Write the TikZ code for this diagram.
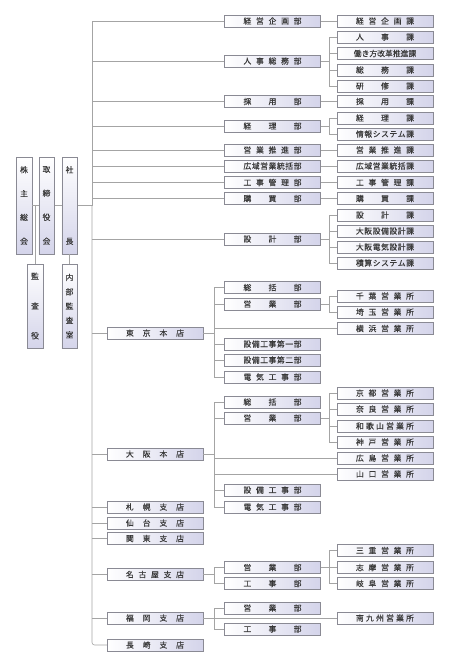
\documentclass[tikz,border=0pt]{standalone}
\usepackage{fontspec}
\setmainfont{Noto Sans CJK JP}
\newfontfamily\jpfont{Noto Sans CJK JP}[FakeBold=0.3]
\usetikzlibrary{shadows}
\definecolor{boxline}{HTML}{8A8A94}
\definecolor{boxfill}{HTML}{D4D4EA}
\definecolor{linec}{HTML}{A4A4A4}
\definecolor{txt}{HTML}{383838}
\newlength\jstw
\makeatletter
\def\jst@first#1{#1\jst@rest}
\def\jst@rest#1{\ifx#1\relax\else\hfill#1\expandafter\jst@rest\fi}
\newcommand\jst[1]{\settowidth\jstw{#1}\ifdim\jstw<58pt\makebox[58pt]{\jst@first#1\relax}\else#1\fi}
\def\vj@first#1{\hbox{#1}\vj@rest}
\def\vj@rest#1{\ifx#1\relax\else\vfill\hbox{#1}\expandafter\vj@rest\fi}
\newcommand\vjst[2]{\vbox to #1{\vj@first#2\relax}}
\makeatother
\tikzset{
  hbx/.style={draw=boxline, line width=0.5pt, left color=white, right color=boxfill,
    minimum width=96pt, minimum height=12pt, inner sep=0pt, text=txt,
    font=\jpfont\fontsize{7.8}{8}\selectfont,
    drop shadow={shadow xshift=0.8pt, shadow yshift=-0.8pt, opacity=0.3, fill=gray}},
  vbx/.style={draw=boxline, line width=0.5pt, top color=white, bottom color=boxfill,
    minimum width=15.5pt, inner sep=0pt, text=txt,
    font=\jpfont\fontsize{7.8}{8}\selectfont,
    drop shadow={shadow xshift=0.8pt, shadow yshift=-0.8pt, opacity=0.3, fill=gray}},
  conn/.style={draw=linec, line width=0.6pt}
}
\begin{document}
\begin{tikzpicture}[x=1pt,y=-1pt]
\useasboundingbox (0,0) rectangle (450,667);
\coordinate (trunk) at (92,0);
\coordinate (bA) at (214,0);
\coordinate (bB) at (329,0);
% left vertical boxes
\node[vbx, minimum height=97pt] (kabu) at (24,205.5) {\vjst{78pt}{株主総会}};
\node[vbx, minimum height=97pt] (tori) at (46.5,205.5) {\vjst{78pt}{取締役会}};
\node[vbx, minimum height=97pt] (sha) at (69.5,205.5) {\vjst{78pt}{社長}};
\node[vbx, minimum height=84pt] (kansa) at (35,306) {\vjst{66pt}{監査役}};
\node[vbx, minimum height=84pt] (naibu) at (69.5,306) {\vjst{64pt}{内部監査室}};
% column B (head office departments)
\node[hbx] (kB1) at (272.5,21) {\jst{経営企画部}};
\node[hbx] (kB2) at (272.5,61) {\jst{人事総務部}};
\node[hbx] (kB3) at (272.5,101.5) {\jst{採用部}};
\node[hbx] (kB4) at (272.5,126) {\jst{経理部}};
\node[hbx] (kB5) at (272.5,150) {\jst{営業推進部}};
\node[hbx] (kB6) at (272.5,166) {\jst{広域営業統括部}};
\node[hbx] (kB7) at (272.5,182.5) {\jst{工事管理部}};
\node[hbx] (kB8) at (272.5,198.5) {\jst{購買部}};
\node[hbx] (kB9) at (272.5,239) {\jst{設計部}};
% column C
\node[hbx] (kC1) at (385,21) {\jst{経営企画課}};
\node[hbx] (kC2) at (385,37) {\jst{人事課}};
\node[hbx] (kC3) at (385,53.5) {\jst{働き方改革推進課}};
\node[hbx] (kC4) at (385,70) {\jst{総務課}};
\node[hbx] (kC5) at (385,86) {\jst{研修課}};
\node[hbx] (kC6) at (385,101.5) {\jst{採用課}};
\node[hbx] (kC7) at (385,118) {\jst{経理課}};
\node[hbx] (kC8) at (385,134) {\jst{情報システム課}};
\node[hbx] (kC9) at (385,150) {\jst{営業推進課}};
\node[hbx] (kC10) at (385,166) {\jst{広域営業統括課}};
\node[hbx] (kC11) at (385,182.5) {\jst{工事管理課}};
\node[hbx] (kC12) at (385,198.5) {\jst{購買課}};
\node[hbx] (kC13) at (385,215) {\jst{設計課}};
\node[hbx] (kC14) at (385,231) {\jst{大阪設備設計課}};
\node[hbx] (kC15) at (385,247) {\jst{大阪電気設計課}};
\node[hbx] (kC16) at (385,263) {\jst{積算システム課}};
% branches (column A)
\node[hbx] (tokyo) at (155,333) {\jst{東京本店}};
\node[hbx] (osaka) at (155,454) {\jst{大阪本店}};
\node[hbx] (sapporo) at (155,507) {\jst{札幌支店}};
\node[hbx] (sendai) at (155,523) {\jst{仙台支店}};
\node[hbx] (kanto) at (155,538.5) {\jst{関東支店}};
\node[hbx] (nagoya) at (155,574.5) {\jst{名古屋支店}};
\node[hbx] (fukuoka) at (155,618) {\jst{福岡支店}};
\node[hbx] (nagasaki) at (155,645) {\jst{長崎支店}};
% Tokyo
\node[hbx] (tB1) at (272.5,287.5) {\jst{総括部}};
\node[hbx] (tB2) at (272.5,304) {\jst{営業部}};
\node[hbx] (tB3) at (272.5,344) {\jst{設備工事第一部}};
\node[hbx] (tB4) at (272.5,360) {\jst{設備工事第二部}};
\node[hbx] (tB5) at (272.5,377) {\jst{電気工事部}};
\node[hbx] (tC1) at (385,296) {\jst{千葉営業所}};
\node[hbx] (tC2) at (385,312) {\jst{埼玉営業所}};
\node[hbx] (tC3) at (385,328.5) {\jst{横浜営業所}};
% Osaka
\node[hbx] (oB1) at (272.5,402) {\jst{総括部}};
\node[hbx] (oB2) at (272.5,418) {\jst{営業部}};
\node[hbx] (oB3) at (272.5,490) {\jst{設備工事部}};
\node[hbx] (oB4) at (272.5,507) {\jst{電気工事部}};
\node[hbx] (oC1) at (385,393) {\jst{京都営業所}};
\node[hbx] (oC2) at (385,409) {\jst{奈良営業所}};
\node[hbx] (oC3) at (385,426) {\jst{和歌山営業所}};
\node[hbx] (oC4) at (385,442) {\jst{神戸営業所}};
\node[hbx] (oC5) at (385,458) {\jst{広島営業所}};
\node[hbx] (oC6) at (385,474) {\jst{山口営業所}};
% Nagoya
\node[hbx] (nB1) at (272.5,567.5) {\jst{営業部}};
\node[hbx] (nB2) at (272.5,583.5) {\jst{工事部}};
\node[hbx] (nC1) at (385,550.5) {\jst{三重営業所}};
\node[hbx] (nC2) at (385,567.5) {\jst{志摩営業所}};
\node[hbx] (nC3) at (385,583.5) {\jst{岐阜営業所}};
% Fukuoka
\node[hbx] (fB1) at (272.5,608) {\jst{営業部}};
\node[hbx] (fB2) at (272.5,629) {\jst{工事部}};
\node[hbx] (fC1) at (385,618) {\jst{南九州営業所}};

% ---------- connectors ----------
\draw[conn] (kabu.east) -- (tori.west);
\draw[conn] (tori.east) -- (sha.west);
\draw[conn] (kansa.north) -- (kansa.north |- kabu.east);
\draw[conn] (sha.south) -- (naibu.north);
\draw[conn] (sha.east) -- (sha.east -| trunk);
% trunk
\draw[conn] (kB1.west) -- (kB1.west -| trunk) -- (sha.east -| trunk);
\draw[conn, rounded corners=2.5pt] (sha.east -| trunk) -- (nagasaki.west -| trunk) -- (nagasaki.west);
\foreach \n in {kB2,kB3,kB4,kB5,kB6,kB7,kB8,kB9,tokyo,osaka,sapporo,sendai,kanto,nagoya,fukuoka}
  \draw[conn] (\n.west) -- (\n.west -| trunk);
% direct links B -> C
\draw[conn] (kB1.east) -- (kC1.west);
\draw[conn] (kB3.east) -- (kC6.west);
\draw[conn] (kB5.east) -- (kC9.west);
\draw[conn] (kB6.east) -- (kC10.west);
\draw[conn] (kB7.east) -- (kC11.west);
\draw[conn] (kB8.east) -- (kC12.west);
% 人事総務部
\draw[conn] (kB2.east) -- (kB2.east -| bB);
\draw[conn] (kC2.west) -| (kC5.west -| bB) -- (kC5.west);
\draw[conn] (kC3.west) -- (kC3.west -| bB);
\draw[conn] (kC4.west) -- (kC4.west -| bB);
% 経理部
\draw[conn] (kB4.east) -- (kB4.east -| bB);
\draw[conn] (kC7.west) -| (kC8.west -| bB) -- (kC8.west);
% 設計部
\draw[conn] (kB9.east) -- (kB9.east -| bB);
\draw[conn] (kC13.west) -| (kC16.west -| bB) -- (kC16.west);
\draw[conn] (kC14.west) -- (kC14.west -| bB);
\draw[conn] (kC15.west) -- (kC15.west -| bB);
% Tokyo
\draw[conn] (tokyo.east) -- (tokyo.east -| bA);
\draw[conn] (tB1.west) -| (tB5.west -| bA) -- (tB5.west);
\foreach \n in {tB2,tB3,tB4,tC3}
  \draw[conn] (\n.west) -- (\n.west -| bA);
\draw[conn] (tB2.east) -- (tB2.east -| bB);
\draw[conn] (tC1.west) -| (tC2.west -| bB) -- (tC2.west);
% Osaka
\draw[conn] (osaka.east) -- (osaka.east -| bA);
\draw[conn] (oB1.west) -| (oB4.west -| bA) -- (oB4.west);
\foreach \n in {oB2,oB3,oC5,oC6}
  \draw[conn] (\n.west) -- (\n.west -| bA);
\draw[conn] (oB2.east) -- (oB2.east -| bB);
\draw[conn] (oC1.west) -| (oC4.west -| bB) -- (oC4.west);
\foreach \n in {oC2,oC3}
  \draw[conn] (\n.west) -- (\n.west -| bB);
% Nagoya
\draw[conn] (nagoya.east) -- (nagoya.east -| bA);
\draw[conn] (nB1.west) -| (nB2.west -| bA) -- (nB2.west);
\draw[conn] (nB1.east) -- (nB1.east -| bB);
\draw[conn] (nC1.west) -| (nC3.west -| bB) -- (nC3.west);
\draw[conn] (nC2.west) -- (nC2.west -| bB);
% Fukuoka
\draw[conn] (fukuoka.east) -- (fC1.west);
\draw[conn] (fB1.west) -| (fB2.west -| bA) -- (fB2.west);
\end{tikzpicture}
\end{document}
